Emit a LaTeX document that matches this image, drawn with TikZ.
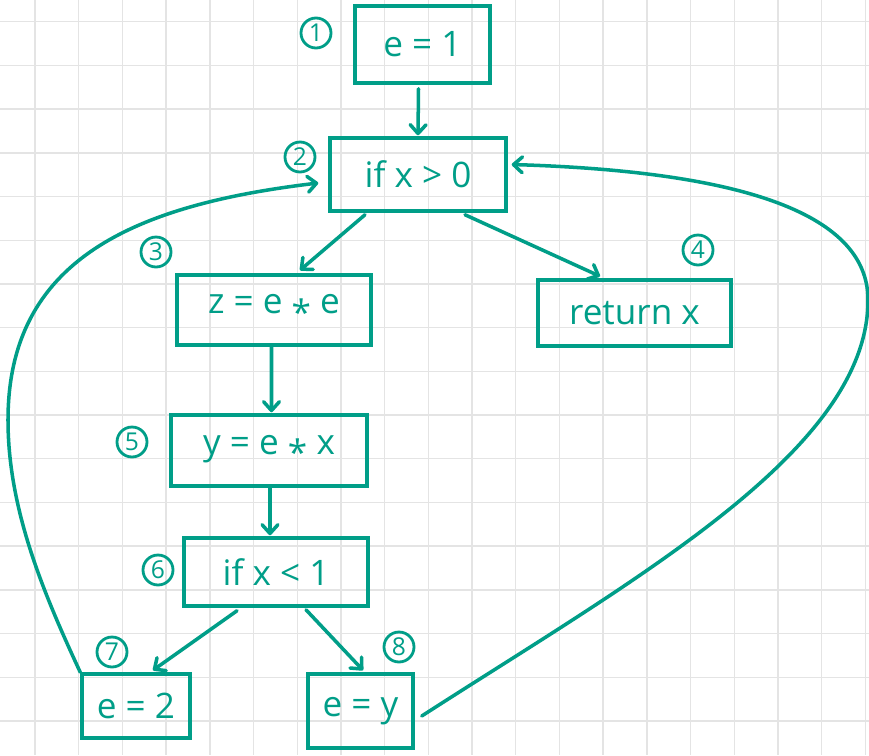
\documentclass[tikz,border=0pt]{standalone}
\usepackage{fontspec}
\setmainfont{Open Sans}
\usepackage{xcolor}
\usetikzlibrary{calc, arrows.meta, positioning}

\definecolor{penteal}{HTML}{009E88}
\definecolor{gridgray}{HTML}{E4E4E4}

\newcommand{\mulsign}{\raisebox{-0.33em}{*}}

\tikzset{
  cfgbox/.style={draw=penteal, line width=2pt, text=penteal,
    font=\fontsize{20}{24}\selectfont, inner sep=0pt},
  numtag/.style={circle, draw=penteal, line width=1.6pt, text=penteal,
    minimum size=0.6cm, inner sep=0pt, font=\fontsize{14}{14}\selectfont},
  flow/.style={->, draw=penteal, line width=2pt, line cap=round},
  gridline/.style={draw=gridgray, line width=0.8pt}
}

\begin{document}
\begin{tikzpicture}[x=0.02cm, y=-0.02cm,
    >={Straight Barb[length=5pt, width=9pt, round]}]

    \useasboundingbox (0,0) rectangle (869,755);

    % =================================================================
    % 1. GRID PAPER BACKGROUND
    % =================================================================
    \fill[white] (0,0) rectangle (869,755);
    \foreach \gx in {0,...,19}
        \draw[gridline] ({35+43.7*\gx},0) -- ++(0,755);
    \foreach \gy in {0,...,16}
        \draw[gridline] (0,{21.7+43.7*\gy}) -- ++(869,0);

    % =================================================================
    % 2. BASIC BLOCKS
    % =================================================================
    \node[cfgbox, minimum width=2.70cm, minimum height=1.54cm] (n1) at (422.5,44.5) {e = 1};
    \node[cfgbox, minimum width=3.52cm, minimum height=1.46cm] (n2) at (418,174.5) {if x > 0};
    \node[cfgbox, minimum width=3.88cm, minimum height=1.40cm] (n3) at (274,310) {z = e \mulsign{} e};
    \node[cfgbox, minimum width=3.86cm, minimum height=1.32cm] (n4) at (634.5,313) {return x};
    \node[cfgbox, minimum width=3.92cm, minimum height=1.42cm] (n5) at (269,450.5) {y = e \mulsign{} x};
    \node[cfgbox, minimum width=3.68cm, minimum height=1.36cm] (n6) at (276,572) {if x < 1};
    \node[cfgbox, minimum width=2.16cm, minimum height=1.28cm] (n7) at (136,706) {e = 2};
    \node[cfgbox, minimum width=2.10cm, minimum height=1.48cm] (n8) at (360.5,711) {e = y};

    % circled block numbers
    \node[numtag] (l1) at (316,33) {1};
    \node[numtag] (l2) at (300,157) {2};
    \node[numtag] (l3) at (156,252) {3};
    \node[numtag] (l4) at (698,250) {4};
    \node[numtag] (l5) at (132,442) {5};
    \node[numtag] (l6) at (158,570) {6};
    \node[numtag] (l7) at (112,652) {7};
    \node[numtag] (l8) at (399,647) {8};

    % =================================================================
    % 3. CONTROL FLOW EDGES
    % =================================================================
    \draw[flow] ($(n1.south)+(-4,4)$) -- ($(n2.north)+(0,-1)$);
    \draw[flow] ($(n2.south)+(-53,2)$) -- ($(n3.north)+(26,-3)$);
    \draw[flow] ($(n2.south)+(47,2)$) -- ($(n4.north)+(-34.5,-2)$);
    \draw[flow] ($(n3.south)+(-2.5,0)$) -- ($(n5.north)+(2.5,-1)$);
    \draw[flow] ($(n5.south)+(1,0)$) -- ($(n6.north)+(-6,-1)$);
    \draw[flow] ($(n6.south)+(-39,3)$) -- ($(n7.north)+(17,-2)$);
    \draw[flow] ($(n6.south)+(30,2)$) -- ($(n8.north)+(2.5,-2)$);

    % back edge 7 -> 2 (left loop)
    \draw[flow] (n7.north west) .. controls (44,594) and (8,510) .. (8,420)
        .. controls (8,260) and (133,205) .. ($(n2.west)+(-10,8.5)$);

    % back edge 8 -> 2 (right loop)
    \draw[flow] ($(n8.east)+(7,5)$) .. controls (636,578) and (868,450) .. (868,300)
        .. controls (868,210) and (731,171) .. ($(n2.east)+(4,-10)$);

\end{tikzpicture}
\end{document}
